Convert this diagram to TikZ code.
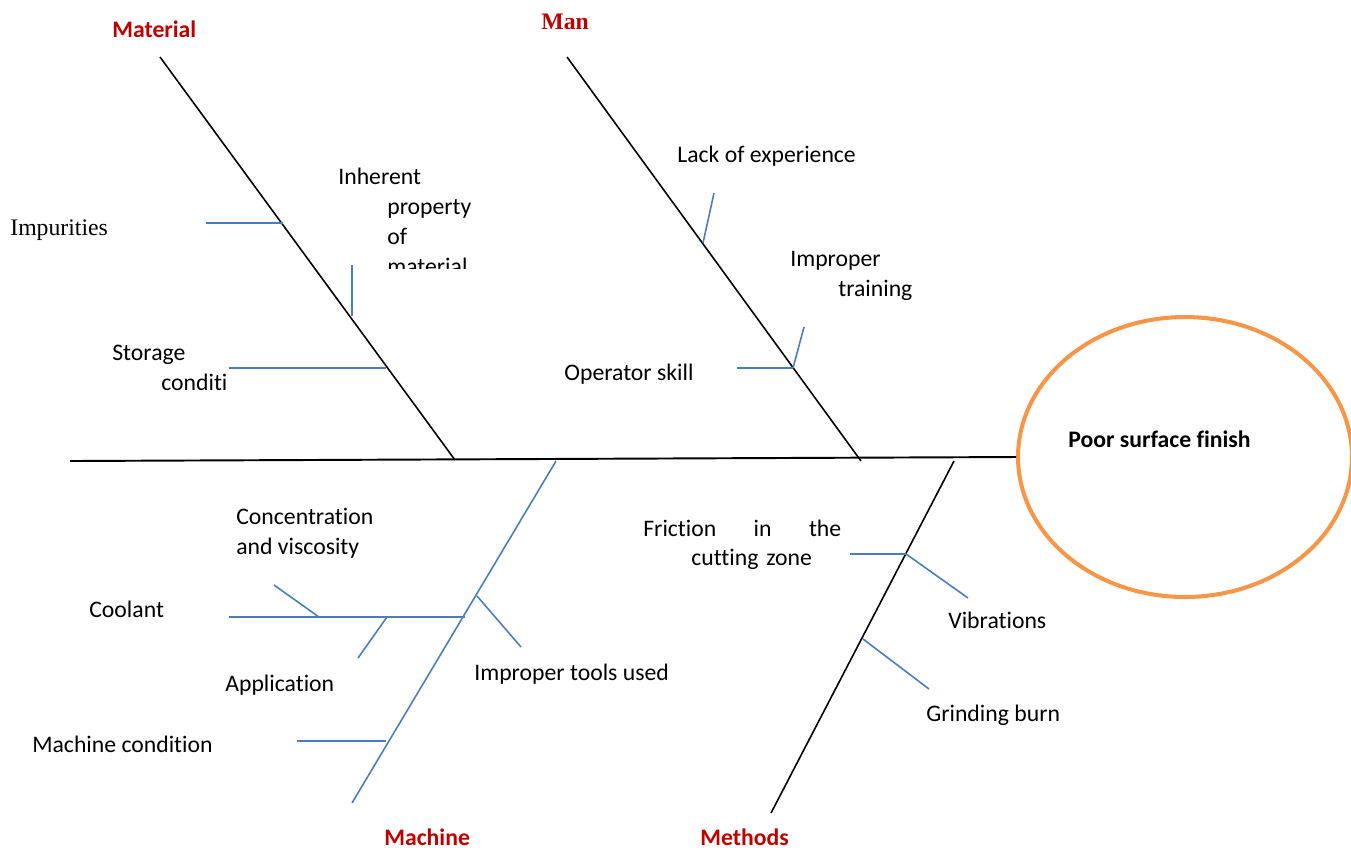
\documentclass[tikz,border=0pt]{standalone}
\usepackage{fontspec}
\setmainfont{Carlito}[Ligatures=NoCommon]
\newfontfamily\timesfont{Liberation Serif}
\usepackage{xcolor}
\usetikzlibrary{shapes.geometric}
\definecolor{boneblue}{HTML}{4A7EBB}
\definecolor{catred}{HTML}{C00000}
\definecolor{effectorange}{HTML}{F79646}

\begin{document}
\begin{tikzpicture}[x=0.02cm,y=-0.02cm]
% styles
\tikzset{
  bone/.style={line width=0.9pt},
  twig/.style={boneblue,line width=0.9pt},
  cause/.style={anchor=base west,inner sep=0pt,align=left,font=\fontsize{13.5}{17}\selectfont},
  category/.style={cause,font=\fontsize{13.5}{17}\selectfont\bfseries,text=catred},
  effect/.style={ellipse,draw=effectorange,line width=2.3pt,minimum width=6.68cm,minimum height=5.6cm,inner sep=0pt}
}
\useasboundingbox (0,0) rectangle (1351,850);
% the head
\node[effect] (effect) at (1185,457) {};
\node[cause,font=\fontsize{13.5}{17}\selectfont\bfseries] (finish) at (1068,447) {Poor surface finish};
% the spine
\coordinate (tail) at (70,461);
\draw[line width=1.1pt] (tail) -- (effect.west);
% main bones
\coordinate (mat0) at (160,57);   \coordinate (mat1) at (455,460);
\coordinate (man0) at (567,57);   \coordinate (man1) at (861,461);
\coordinate (mac0) at (352,803);  \coordinate (mac1) at (556,461);
\coordinate (met0) at (771,813);  \coordinate (met1) at (954,461);
\draw[bone] (mat0) -- (mat1);
\draw[bone] (man0) -- (man1);
\draw[twig] (mac0) -- (mac1);
\draw[bone] (met0) -- (met1);
% category names
\node[category] (material) at (112,37) {Material};
\node[category,font=\fontsize{13.5}{17}\selectfont\timesfont\bfseries] (man) at (541,29) {Man};
\node[category] (machine) at (384,845) {Machine};
\node[category] (methods) at (700,845) {Methods};

% Material (multi-line texts sit on their last line)
\coordinate (imp0) at (206,223);  \coordinate (imp1) at (283,223);
\coordinate (inh0) at (352,265);  \coordinate (inh1) at (352,316);
\coordinate (sto0) at (229,368);  \coordinate (sto1) at (386,368);
\draw[twig] (imp0) -- (imp1);
\draw[twig] (inh0) -- (inh1);
\draw[twig] (sto0) -- (sto1);
\node[cause,font=\fontsize{13.5}{17}\selectfont\timesfont] (impurities) at (10,235) {Impurities};
\begin{scope}
  \clip (330,150) rectangle (480,268);
  \node[cause] (inherent) at (338,274) {Inherent\\\hspace*{0.98cm}property\\\hspace*{0.98cm}of\\\hspace*{0.98cm}material};
\end{scope}
\node[cause] (storage) at (112,390) {Storage\\\hspace*{0.98cm}conditi};

% Man
\coordinate (lac0) at (703,243);  \coordinate (lac1) at (714,193);
\coordinate (tra0) at (793,368);  \coordinate (tra1) at (804,327);
\coordinate (ope0) at (737,368);
\draw[twig] (lac0) -- (lac1);
\draw[twig] (tra0) -- (tra1);
\draw[twig] (ope0) -- (tra0);
\node[cause] (lack) at (677,162) {Lack of experience};
\node[cause] (training) at (790,296) {Improper\\\hspace*{0.96cm}training};
\node[cause] (operator) at (564,380) {Operator skill};

% Machine
\coordinate (coo0) at (229,617);  \coordinate (coo1) at (465,617);
\coordinate (con0) at (274,585);  \coordinate (con1) at (319,617);
\coordinate (app0) at (358,658);  \coordinate (app1) at (387,617);
\coordinate (too0) at (477,596);  \coordinate (too1) at (521,647);
\coordinate (cnd0) at (297,741);  \coordinate (cnd1) at (386,741);
\draw[twig] (coo0) -- (coo1);
\draw[twig] (con0) -- (con1);
\draw[twig] (app0) -- (app1);
\draw[twig] (too0) -- (too1);
\draw[twig] (cnd0) -- (cnd1);
\node[cause] (concentration) at (236,554) {Concentration\\and viscosity};
\node[cause] (coolant) at (89,617) {Coolant};
\node[cause] (application) at (225,691) {Application};
\node[cause] (tools) at (474,680) {Improper tools used};
\node[cause] (condition) at (32,752) {Machine condition};

% Methods (text width box sits on its first line)
\coordinate (fri0) at (850,554);  \coordinate (fri1) at (906,554);
\coordinate (vib1) at (968,598);
\coordinate (gri0) at (863,639);  \coordinate (gri1) at (929,689);
\draw[twig] (fri0) -- (fri1);
\draw[twig] (fri1) -- (vib1);
\draw[twig] (gri0) -- (gri1);
\node[cause,text width=3.96cm] (friction) at (643,536) {Friction\hfill in\hfill the\\\hspace*{0.96cm}cutting zone};
\node[cause] (vibrations) at (948,628) {Vibrations};
\node[cause] (grinding) at (926,721) {Grinding burn};
\end{tikzpicture}
\end{document}
